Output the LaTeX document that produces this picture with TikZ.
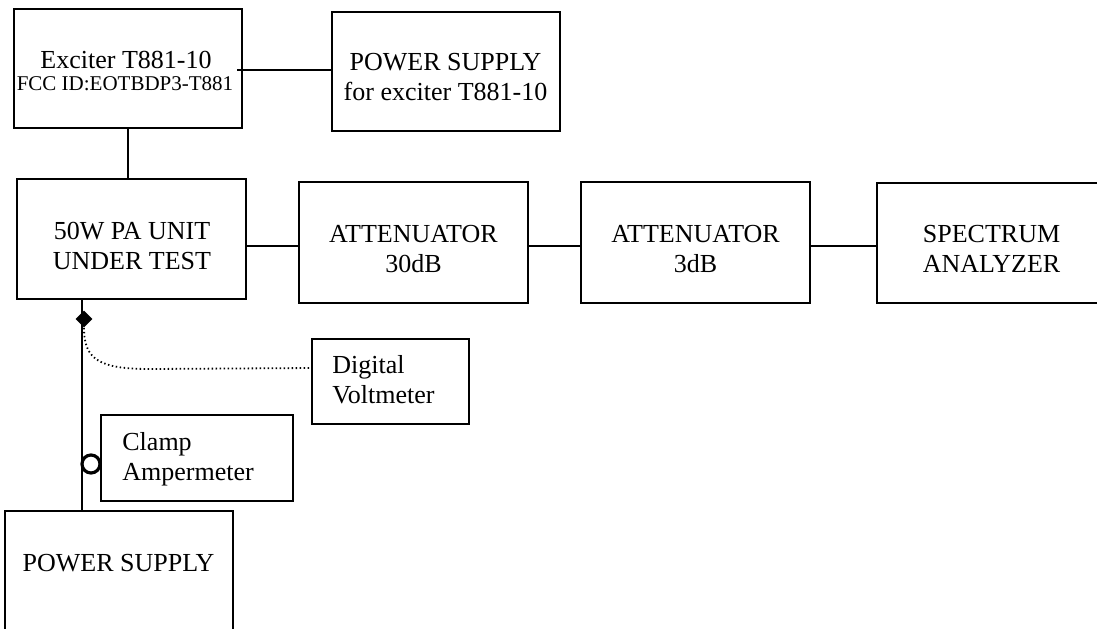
\documentclass[tikz,border=0pt]{standalone}
\usepackage{fontspec}
\setmainfont{Liberation Serif}
\usetikzlibrary{shapes.geometric}
\begin{document}
\begin{tikzpicture}[x=0.5pt,y=-0.5pt,
  box/.style={draw, line width=1pt, inner sep=0pt},
  thinbox/.style={draw, line width=0.65pt, inner sep=0pt},
  txt/.style={font=\fontsize{13}{15}\selectfont, inner sep=0pt, align=center},
  smalltxt/.style={font=\fontsize{10.5}{12}\selectfont, inner sep=0pt},
  ltxt/.style={font=\fontsize{13}{15}\selectfont, inner sep=0pt, align=left},
  wire/.style={line width=1pt},
  dotwire/.style={line width=0.9pt, dash pattern=on 0.7pt off 1.3pt}]
\useasboundingbox (0,0) rectangle (1097,628);
\clip (0,0) rectangle (1097,628);
% boxes
\node[box, minimum width=114pt, minimum height=59.5pt] (exc) at (128,68.5) {};
\node[box, minimum width=114pt, minimum height=59.5pt] (pse) at (446,71.5) {};
\node[box, minimum width=114.5pt, minimum height=60pt] (pa) at (131.5,239) {};
\node[box, minimum width=114.5pt, minimum height=60.5pt] (att30) at (413.5,242.5) {};
\node[box, minimum width=114.5pt, minimum height=60.5pt] (att3) at (695.5,242.5) {};
\node[box, minimum width=114.5pt, minimum height=60pt] (sa) at (991.5,243) {};
\node[thinbox, minimum width=78.5pt, minimum height=42.5pt] (dvm) at (390.5,381.5) {};
\node[thinbox, minimum width=96pt, minimum height=43pt] (clamp) at (197,458) {};
\node[box, minimum width=114pt, minimum height=70pt] (ps) at (119,581) {};
% texts (anchor=base is the baseline of the last line)
\node[txt, anchor=base] (exct) at (126,68) {Exciter T881-10};
\node[smalltxt, anchor=base] (fcct) at (125,90) {FCC ID:EOTBDP3-T881};
\node[txt, anchor=base] (pset) at (445.5,100) {POWER SUPPLY\\for exciter T881-10};
\node[txt, anchor=base] (pat) at (132,269) {50W PA UNIT\\UNDER TEST};
\node[txt, anchor=base] (att30t) at (413.5,272) {ATTENUATOR\\30dB};
\node[txt, anchor=base] (att3t) at (695.5,272) {ATTENUATOR\\3dB};
\node[txt, anchor=base] (sat) at (991.5,272) {SPECTRUM\\ANALYZER};
\node[ltxt, anchor=base west] (dvmt) at (332,403) {Digital\\Voltmeter};
\node[ltxt, anchor=base west] (clampt) at (122,480) {Clamp\\Ampermeter};
\node[txt, anchor=base] (pst) at (118.5,571) {POWER SUPPLY};
% tap points
\coordinate (tapA) at (82,299);
\coordinate (tapB) at (82,511);
\coordinate (busY) at (0,246);
\coordinate (dvY) at (0,368);
% connectors
\draw[wire] ([xshift=-3pt,yshift=-0.75pt]exc.east) -- ([yshift=-0.75pt]exc.east -| pse.west);
\draw[wire] (exc.south) -- (exc.south |- pa.north);
\draw[wire] (pa.east |- busY) -- (att30.west |- busY);
\draw[wire] (att30.east |- busY) -- (att3.west |- busY);
\draw[wire] (att3.east |- busY) -- (sa.west |- busY);
\draw[line width=1.1pt] (tapA) -- (tapB);
\node[diamond, fill=black, inner sep=0pt, minimum size=8.5pt] (dia) at (84,319) {};
\node[circle, draw, line width=1.6pt, inner sep=0pt, minimum size=9pt] (clampc) at (91,464) {};
\draw[dotwire] (dia.south) .. controls (84,360) and (100,369) .. (150,369) -- (dvm.west |- dvY);
\end{tikzpicture}
\end{document}
